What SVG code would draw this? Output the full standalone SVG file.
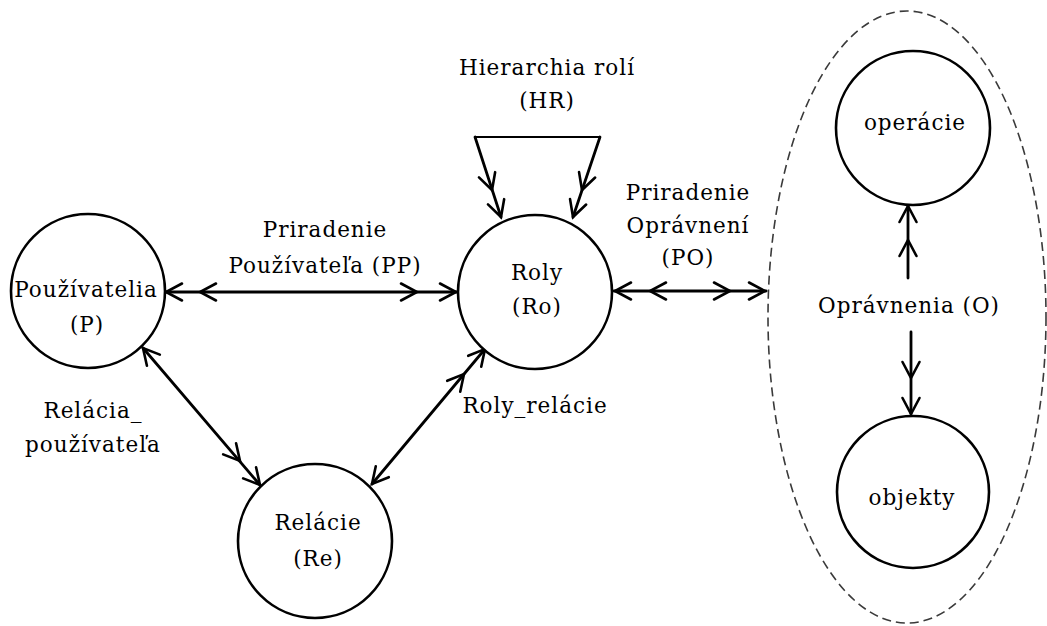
<svg xmlns="http://www.w3.org/2000/svg" xmlns:xlink="http://www.w3.org/1999/xlink" width="1047" height="626" viewBox="0 0 1047 626">
  <style>
    .node { fill: #ffffff; stroke: #000000; stroke-width: 2.6; }
    .group { fill: none; stroke: #3a3a3a; stroke-width: 1.6; stroke-dasharray: 9 5; }
    .edge { fill: none; stroke: #000000; stroke-width: 2.8; stroke-linecap: round; }
    .thin { fill: none; stroke: #000000; stroke-width: 2; }
    .head { fill: none; stroke: #000000; stroke-width: 2.6; stroke-linecap: round; stroke-linejoin: miter; }
    text { font-family: "DejaVu Serif", "Liberation Serif", serif; font-size: 21.5px; letter-spacing: 1px; fill: #000000; text-anchor: middle; }
  </style>
  <defs>
    <!-- open chevron arrowhead, tip at origin, pointing along +x -->
    <path id="chev" class="head" d="M-16,-8.5 L0,0 L-16,8.5"/>
  </defs>

  <!-- dashed boundary around the permission set -->
  <ellipse id="permission-set" class="group" cx="907" cy="317" rx="139" ry="306"/>

  <g id="connectors">
    <!-- Priradenie Používateľa (PP) -->
    <line class="edge" x1="165" y1="292" x2="457" y2="292"/>
    <use xlink:href="#chev" transform="translate(166,292) rotate(180)"/>
    <use xlink:href="#chev" transform="translate(200,292) rotate(180)"/>
    <use xlink:href="#chev" transform="translate(417,292)"/>
    <use xlink:href="#chev" transform="translate(456,292)"/>

    <!-- Priradenie Oprávnení (PO) -->
    <line class="edge" x1="614" y1="291" x2="766" y2="291"/>
    <use xlink:href="#chev" transform="translate(615,291) rotate(180)"/>
    <use xlink:href="#chev" transform="translate(650,291) rotate(180)"/>
    <use xlink:href="#chev" transform="translate(730,291)"/>
    <use xlink:href="#chev" transform="translate(765,291)"/>

    <!-- Hierarchia rolí (HR) self loop -->
    <line class="thin" x1="475" y1="137" x2="600" y2="137"/>
    <line class="edge" x1="475" y1="137" x2="501" y2="217"/>
    <line class="edge" x1="600" y1="137" x2="573" y2="217"/>
    <use xlink:href="#chev" transform="translate(501,217) rotate(72)"/>
    <use xlink:href="#chev" transform="translate(492,190) rotate(72)"/>
    <use xlink:href="#chev" transform="translate(573,217) rotate(108.6)"/>
    <use xlink:href="#chev" transform="translate(582,190) rotate(108.6)"/>

    <!-- Relácia_používateľa -->
    <line class="edge" x1="143" y1="348" x2="260" y2="485"/>
    <use xlink:href="#chev" transform="translate(143,348) rotate(229.5)"/>
    <use xlink:href="#chev" transform="translate(260,485) rotate(49.5)"/>
    <use xlink:href="#chev" transform="translate(240,461) rotate(49.5)"/>

    <!-- Roly_relácie -->
    <line class="edge" x1="485" y1="349" x2="372" y2="484"/>
    <use xlink:href="#chev" transform="translate(485,349) rotate(-50)"/>
    <use xlink:href="#chev" transform="translate(464,374) rotate(-50)"/>
    <use xlink:href="#chev" transform="translate(372,484) rotate(130)"/>

    <!-- Oprávnenia (O) to operácie and objekty -->
    <line class="edge" x1="908" y1="278" x2="908" y2="206"/>
    <use xlink:href="#chev" transform="translate(908,206) rotate(-90)"/>
    <use xlink:href="#chev" transform="translate(908,240) rotate(-90)"/>
    <line class="edge" x1="911" y1="332" x2="911" y2="414"/>
    <use xlink:href="#chev" transform="translate(911,378) rotate(90)"/>
    <use xlink:href="#chev" transform="translate(911,414) rotate(90)"/>
  </g>

  <!-- edge labels -->
  <g id="edge-labels">
    <text x="547" y="75">Hierarchia rolí</text>
    <text x="547" y="108">(HR)</text>
    <text x="325" y="237">Priradenie</text>
    <text x="325" y="273">Používateľa (PP)</text>
    <text x="688" y="200">Priradenie</text>
    <text x="688" y="233">Oprávnení</text>
    <text x="688" y="265">(PO)</text>
    <text x="93" y="418">Relácia_</text>
    <text x="93" y="452">používateľa</text>
    <text x="535" y="413">Roly_relácie</text>
    <text x="909" y="313">Oprávnenia (O)</text>
  </g>

  <g id="node-pouzivatelia">
    <circle class="node" cx="88" cy="291" r="77"/>
    <text x="86" y="297">Používatelia</text>
    <text x="87" y="332">(P)</text>
  </g>

  <g id="node-roly">
    <circle class="node" cx="535" cy="292" r="77"/>
    <text x="537" y="280">Roly</text>
    <text x="537" y="314">(Ro)</text>
  </g>

  <g id="node-relacie">
    <circle class="node" cx="315" cy="541" r="77"/>
    <text x="318" y="530">Relácie</text>
    <text x="318" y="566">(Re)</text>
  </g>

  <g id="node-operacie">
    <circle class="node" cx="913" cy="128" r="77"/>
    <text x="915" y="130">operácie</text>
  </g>

  <g id="node-objekty">
    <circle class="node" cx="913" cy="492" r="76"/>
    <text x="912" y="505">objekty</text>
  </g>
</svg>
